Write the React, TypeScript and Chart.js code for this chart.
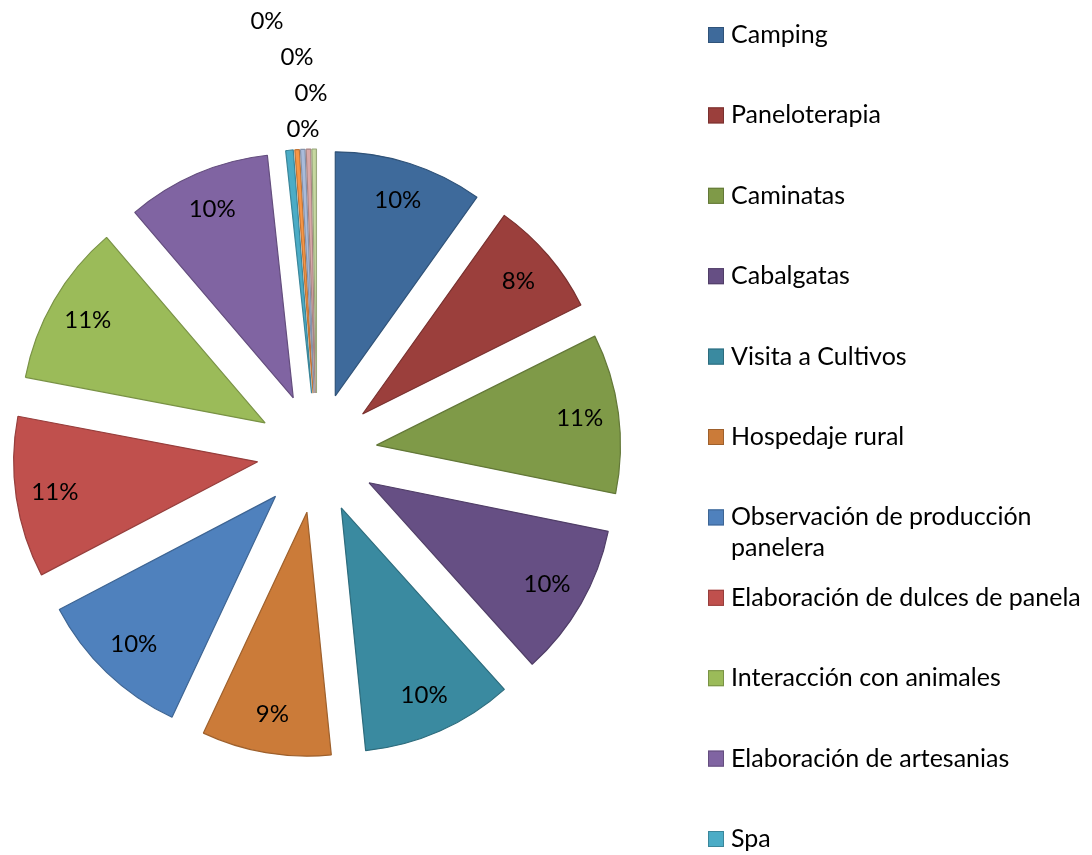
import { useEffect, useRef } from "react";
import { Chart, registerables } from "chart.js";

Chart.register(...registerables);

// ---- data ----
const categories = [
  "Camping",
  "Paneloterapia",
  "Caminatas",
  "Cabalgatas",
  "Visita a Cultivos",
  "Hospedaje rural",
  "Observación de producción panelera",
  "Elaboración de dulces de panela",
  "Interacción con animales",
  "Elaboración de artesanias",
  "Spa",
  "Otra actividad 1",
  "Otra actividad 2",
  "Otra actividad 3",
  "Otra actividad 4",
];
const values = [9.9, 7.8, 10.6, 10.2, 10.1, 8.6, 10.4, 10.7, 10.8, 9.6, 0.5, 0.3, 0.3, 0.3, 0.3];
const colors = [
  "#3E6A9B", "#9B3F3C", "#7F9A48", "#664F84", "#3A8AA0", "#CB7B39",
  "#4F81BD", "#C0504D", "#9BBB59", "#8064A2", "#4BACC6", "#F79646",
  "#A9BBDA", "#D9A9A8", "#C6D8A0",
];
const legendItemsShown = 11;

// ---- style ----
const FONT = "Lato";
const EXPLODE = 60;
const RADIUS = 244;

function darken(hex: string, f: number) {
  const n = parseInt(hex.slice(1), 16);
  const r = Math.round(((n >> 16) & 255) * f);
  const g = Math.round(((n >> 8) & 255) * f);
  const b = Math.round((n & 255) * f);
  return `rgb(${r},${g},${b})`;
}
const borders = colors.map((c) => darken(c, 0.78));

const explodePlugin = {
  id: "explode",
  beforeDatasetDraw(chart: any, args: any) {
    const ctx = chart.ctx;
    args.meta.data.forEach((arc: any) => {
      const mid = (arc.startAngle + arc.endAngle) / 2;
      ctx.save();
      ctx.translate(Math.cos(mid) * EXPLODE, Math.sin(mid) * EXPLODE);
      arc.draw(ctx);
      ctx.restore();
    });
    return false;
  },
};

const TINY_SHIFT = [-14, -6, -20, -50, -80];

const labelsPlugin = {
  id: "sliceLabels",
  afterDatasetsDraw(chart: any) {
    const ctx = chart.ctx;
    const meta = chart.getDatasetMeta(0);
    const data: number[] = chart.data.datasets[0].data;
    const total = data.reduce((a, b) => a + b, 0);
    ctx.save();
    ctx.font = `24px ${FONT}`;
    ctx.fillStyle = "#000";
    ctx.textAlign = "center";
    ctx.textBaseline = "middle";
    let k = 0;
    meta.data.forEach((arc: any, i: number) => {
      const { x, y, startAngle, endAngle, outerRadius } = arc.getProps(
        ["x", "y", "startAngle", "endAngle", "outerRadius"],
        true
      );
      const mid = (startAngle + endAngle) / 2;
      const frac = data[i] / total;
      const txt = Math.round(frac * 100) + "%";
      let lx: number, ly: number;
      if (frac >= 0.01) {
        const d = EXPLODE + outerRadius * 0.84;
        lx = x + Math.cos(mid) * d;
        ly = y + Math.sin(mid) * d;
      } else {
        lx = x + TINY_SHIFT[k % TINY_SHIFT.length];
        ly = y - EXPLODE - outerRadius - 20 - 36 * k;
        k++;
      }
      ctx.fillText(txt, lx, ly);
    });
    ctx.restore();
  },
};

const legendPlugin = {
  id: "sideLegend",
  afterDraw(chart: any) {
    const ctx = chart.ctx;
    const labels: string[] = chart.data.labels;
    const ds = chart.data.datasets[0];
    const boxX = 708;
    const textX = 731;
    const top = 35;
    const step = 80.4;
    const maxW = chart.width - textX - 4;
    ctx.save();
    ctx.font = `25px ${FONT}`;
    ctx.fillStyle = "#000";
    ctx.textAlign = "left";
    ctx.textBaseline = "middle";
    for (let i = 0; i < Math.min(legendItemsShown, labels.length); i++) {
      const yc = top + step * i;
      ctx.fillStyle = ds.backgroundColor[i];
      ctx.fillRect(boxX, yc - 8, 16, 16);
      ctx.strokeStyle = ds.borderColor[i];
      ctx.lineWidth = 1;
      ctx.strokeRect(boxX + 0.5, yc - 7.5, 15, 15);
      ctx.fillStyle = "#000";
      // word wrap
      const words = labels[i].split(" ");
      const lines: string[] = [];
      let cur = "";
      words.forEach((w) => {
        const t = cur ? cur + " " + w : w;
        if (ctx.measureText(t).width > maxW && cur) {
          lines.push(cur);
          cur = w;
        } else cur = t;
      });
      if (cur) lines.push(cur);
      lines.forEach((ln, j) => ctx.fillText(ln, textX, yc + j * 31));
    }
    ctx.restore();
  },
};

export default function App() {
  const ref = useRef<HTMLCanvasElement | null>(null);
  useEffect(() => {
    document.body.style.margin = "0";
    if (!ref.current) return;
    const chart = new Chart(ref.current, {
      type: "pie",
      data: {
        labels: categories,
        datasets: [
          {
            data: values,
            backgroundColor: colors,
            borderColor: borders,
            borderWidth: 1.2,
            radius: RADIUS,
          } as any,
        ],
      },
      options: {
        responsive: false,
        animation: false,
        events: [],
        layout: { padding: { left: 0, right: 458, top: 51, bottom: 0 } },
        plugins: { legend: { display: false }, tooltip: { enabled: false } },
      },
      plugins: [explodePlugin, labelsPlugin, legendPlugin],
    });
    return () => chart.destroy();
  }, []);
  return (
    <div style={{ width: 1092, height: 855, background: "#fff" }}>
      <canvas ref={ref} width={1092} height={855} style={{ display: "block" }} />
    </div>
  );
}
